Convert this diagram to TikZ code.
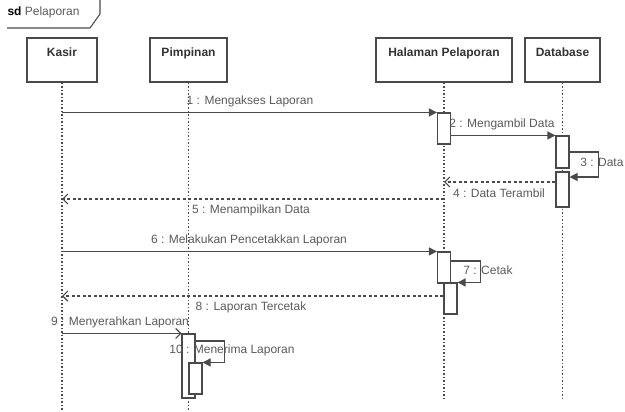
\documentclass[tikz,border=0pt]{standalone}
\usepackage{fontspec}
\setmainfont{Liberation Sans}
\usetikzlibrary{arrows.meta}
\definecolor{linegray}{HTML}{4A4A4A}
\definecolor{textgray}{HTML}{5A5A5A}

\begin{document}
\begin{tikzpicture}[x=1pt, y=-1pt, line width=1.1pt,
  every node/.style={font=\fontsize{12}{14}\selectfont, text=textgray},
  obj/.style={draw=linegray, fill=white, minimum height=44pt, inner sep=0pt},
  objname/.style={font=\fontsize{12}{14}\selectfont\bfseries, text=black!80, anchor=north, yshift=-8pt, inner sep=2pt},
  act/.style={draw=linegray, fill=white, minimum width=13pt, inner sep=0pt},
  life/.style={draw=linegray, line width=1.2pt, dash pattern=on 1.5pt off 2pt},
  msg/.style={draw=linegray, -{Triangle[length=8pt,width=8pt]}},
  ret/.style={draw=linegray, dash pattern=on 3pt off 2.5pt, -{Straight Barb[length=5pt,width=10pt]}},
  give/.style={draw=linegray, -{Straight Barb[length=5pt,width=10pt]}}]

\useasboundingbox (0,0) rectangle (625,412);

% Frame label
\draw[linegray] (7,28) -- (90,28) -- (100,14) -- (100,0);
\node[anchor=west, inner sep=0pt, font=\fontsize{12}{14}\selectfont] (title) at (7,12) {\textcolor{black}{\textbf{sd}} Pelaporan};

% Objects
\node[obj, minimum width=70pt] (kasir) at (62,60) {};
\node[obj, minimum width=77pt] (pimpinan) at (188.5,60) {};
\node[obj, minimum width=136pt] (halaman) at (444,60) {};
\node[obj, minimum width=75pt] (database) at (562.5,60) {};

\node[objname] at (kasir.north) {Kasir};
\node[objname] at (pimpinan.north) {Pimpinan};
\node[objname] at (halaman.north) {Halaman Pelaporan};
\node[objname] at (database.north) {Database};

% Lifelines
\coordinate (kasirEnd) at (62,412);
\coordinate (pimpinanEnd) at (188.5,412);
\coordinate (halamanEnd) at (444,400);
\coordinate (databaseEnd) at (562.5,400);

\draw[life] (kasir.south) -- (kasirEnd);
\draw[life] (pimpinan.south) -- (pimpinanEnd);
\draw[life] (halaman.south) -- (halamanEnd);
\draw[life] (database.south) -- (databaseEnd);

% Activations
\node[act, minimum height=31pt] (h1) at (444,128.5) {};
\node[act, minimum height=32pt] (d1) at (562.5,152) {};
\node[act, minimum height=35pt] (d2) at (562.5,189.5) {};
\node[act, minimum height=31pt] (h2) at (444,267.5) {};
\node[act, minimum height=31pt] (h3) at (450.5,298.5) {};
\node[act, minimum height=64pt] (p1) at (188.5,366) {};
\node[act, minimum height=31pt] (p2) at (195.5,378.5) {};

% Message rows
\coordinate (r4) at (0,182);
\coordinate (r5) at (0,199);
\coordinate (r7) at (0,261);
\coordinate (r8) at (0,296);
\coordinate (r10) at (0,341);

% Messages
\draw[msg] (kasir |- h1.north) -- (h1.north west);
\node (l1) at (250,101) {1 : Mengakses Laporan};

\draw[msg] (h1.east |- d1.north) -- (d1.north west);
\node (l2) at (502,124) {2 : Mengambil Data};

\draw[msg] (d1.east) -- ++(29,0) -- ++(0,25) -- ++(-29,0);
\node[anchor=east, inner sep=0pt] (l3) at (624,162) {3 : Data};

\draw[ret] (d2.west |- r4) -- (halaman |- r4);
\node (l4) at (499,193) {4 : Data Terambil};

\draw[ret] (halaman |- r5) -- (kasir |- r5);
\node (l5) at (251,210) {5 : Menampilkan Data};

\draw[msg] (kasir |- h2.north) -- (h2.north west);
\node (l6) at (249,240) {6 : Melakukan Pencetakkan Laporan};

\draw[msg] (h2.east |- r7) -| ([xshift=23pt]h3.north east) -- (h3.north east);
\node (l7) at (488,270) {7 : Cetak};

\draw[ret] (h3.west |- r8) -- (kasir |- r8);
\node (l8) at (251,307) {8 : Laporan Tercetak};

\draw[give] (kasir |- p1.north) -- (p1.north west);
\node (l9) at (120,322) {9 : Menyerahkan Laporan};

\draw[msg] (p1.east |- r10) -| ([xshift=22pt]p2.north east) -- (p2.north east);
\node (l10) at (232,350) {10 : Menerima Laporan};

\end{tikzpicture}
\end{document}
